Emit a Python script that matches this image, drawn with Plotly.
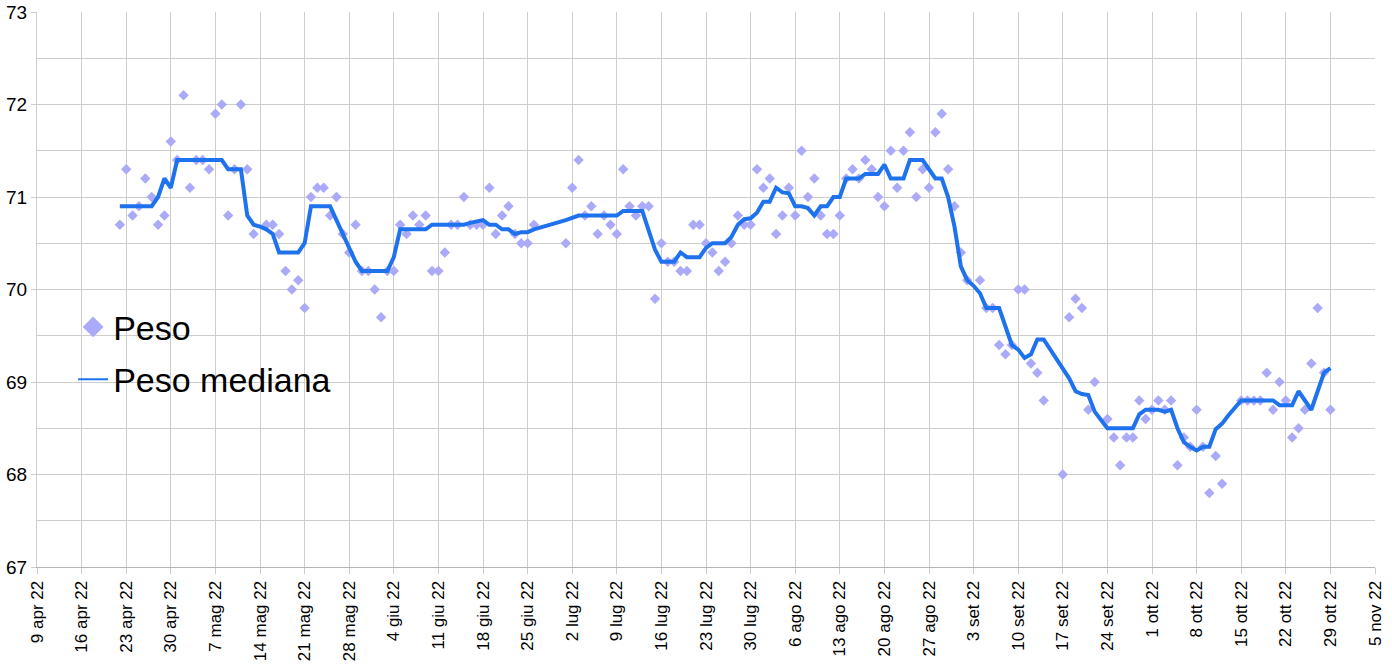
import plotly.graph_objects as go
from datetime import date, timedelta

# ---- data ----
peso_dates = [
    "04-22","04-23","04-24","04-25","04-26","04-27","04-28","04-29","04-30",
    "05-01","05-02","05-03","05-04","05-05","05-06","05-07","05-08","05-09","05-10",
    "05-11","05-12","05-13","05-15","05-16","05-17","05-18","05-19","05-20","05-21",
    "05-22","05-23","05-24","05-25","05-26","05-27","05-28","05-29","05-30","05-31",
    "06-01","06-02","06-03","06-04","06-05","06-06","06-07","06-08","06-09","06-10",
    "06-11","06-12","06-13","06-14","06-15","06-16","06-17","06-18","06-19","06-20",
    "06-21","06-22","06-23","06-24","06-25","06-26",
    "07-01","07-02","07-03","07-04","07-05","07-06","07-07","07-08","07-09","07-10",
    "07-11","07-12","07-13","07-14","07-15","07-16","07-17","07-18","07-19","07-20",
    "07-21","07-22","07-23","07-24","07-25","07-26","07-27","07-28","07-29","07-30","07-31",
    "08-01","08-02","08-03","08-04","08-05","08-06","08-07","08-08","08-09","08-10",
    "08-11","08-12","08-13","08-14","08-15","08-16","08-17","08-18","08-19","08-20",
    "08-21","08-22","08-23","08-24","08-25","08-26","08-27","08-28","08-29","08-30","08-31",
    "09-01","09-02","09-04","09-05","09-06","09-07","09-08","09-09","09-10",
    "09-11","09-12","09-13","09-14","09-17","09-18","09-19","09-20",
    "09-21","09-22","09-24","09-25","09-26","09-27","09-28","09-29","09-30",
    "10-01","10-02","10-03","10-04","10-05","10-06","10-07","10-08","10-09","10-10",
    "10-11","10-12","10-15","10-16","10-17","10-18","10-19","10-20",
    "10-21","10-22","10-23","10-24","10-25","10-26","10-27","10-28","10-29",
]
peso_values = [
    70.7,71.3,70.8,70.9,71.2,71.0,70.7,70.8,71.6,
    71.4,72.1,71.1,71.4,71.4,71.3,71.9,72.0,70.8,71.3,
    72.0,71.3,70.6,70.7,70.7,70.6,70.2,70.0,70.1,69.8,
    71.0,71.1,71.1,70.8,71.0,70.6,70.4,70.7,70.2,70.2,
    70.0,69.7,70.2,70.2,70.7,70.6,70.8,70.7,70.8,70.2,
    70.2,70.4,70.7,70.7,71.0,70.7,70.7,70.7,71.1,70.6,
    70.8,70.9,70.6,70.5,70.5,70.7,
    70.5,71.1,71.4,70.8,70.9,70.6,70.8,70.7,70.6,71.3,
    70.9,70.8,70.9,70.9,69.9,70.5,70.3,70.3,70.2,70.2,
    70.7,70.7,70.5,70.4,70.2,70.3,70.5,70.8,70.7,70.7,71.3,
    71.1,71.2,70.6,70.8,71.1,70.8,71.5,71.0,71.2,70.8,
    70.6,70.6,70.8,71.2,71.3,71.2,71.4,71.3,71.0,70.9,
    71.5,71.1,71.5,71.7,71.0,71.3,71.1,71.7,71.9,71.3,70.9,
    70.4,70.1,70.1,69.8,69.8,69.4,69.3,69.4,70.0,
    70.0,69.2,69.1,68.8,68.0,69.7,69.9,69.8,
    68.7,69.0,68.6,68.4,68.1,68.4,68.4,68.8,68.6,
    68.7,68.8,68.7,68.8,68.1,68.4,68.3,68.7,68.3,67.8,
    68.2,67.9,68.8,68.8,68.8,68.8,69.1,68.7,
    69.0,68.8,68.4,68.5,68.7,69.2,69.8,69.1,68.7,
]

mediana_dates = [
    "04-22","04-23","04-24","04-25","04-26","04-27","04-28","04-29","04-30",
    "05-01","05-02","05-03","05-04","05-05","05-06","05-07","05-08","05-09","05-10",
    "05-11","05-12","05-13","05-14","05-15","05-16","05-17","05-18","05-19","05-20","05-21",
    "05-22","05-23","05-24","05-25","05-26","05-27","05-28","05-29","05-30","05-31",
    "06-01","06-02","06-03","06-04","06-05","06-06","06-07","06-08","06-09","06-10",
    "06-11","06-12","06-13","06-14","06-15","06-16","06-17","06-18","06-19","06-20",
    "06-21","06-22","06-23","06-24","06-25","06-26",
    "07-01","07-02","07-03","07-04","07-05","07-06","07-07","07-08","07-09","07-10",
    "07-11","07-12","07-13","07-14","07-15","07-16","07-17","07-18","07-19","07-20",
    "07-21","07-22","07-23","07-24","07-25","07-26","07-27","07-28","07-29","07-30","07-31",
    "08-01","08-02","08-03","08-04","08-05","08-06","08-07","08-08","08-09","08-10",
    "08-11","08-12","08-13","08-14","08-15","08-16","08-17","08-18","08-19","08-20",
    "08-21","08-22","08-23","08-24","08-25","08-26","08-27","08-28","08-29","08-30","08-31",
    "09-01","09-02","09-03","09-04","09-05","09-06","09-07","09-08","09-09","09-10",
    "09-11","09-12","09-13","09-14","09-15","09-16","09-17","09-18","09-19","09-20",
    "09-21","09-22","09-23","09-24","09-25","09-26","09-27","09-28","09-29","09-30",
    "10-01","10-02","10-03","10-04","10-05","10-06","10-07","10-08","10-09","10-10",
    "10-11","10-12","10-13","10-14","10-15","10-16","10-17","10-18","10-19","10-20",
    "10-21","10-22","10-23","10-24","10-25","10-26","10-27","10-28","10-29",
]
mediana_values = [
    70.9,70.9,70.9,70.9,70.9,70.9,71.0,71.2,71.1,
    71.4,71.4,71.4,71.4,71.4,71.4,71.4,71.4,71.3,71.3,
    71.3,70.8,70.7,70.68,70.65,70.6,70.4,70.4,70.4,70.4,70.5,
    70.9,70.9,70.9,70.9,70.75,70.6,70.45,70.3,70.2,70.2,
    70.2,70.2,70.2,70.35,70.65,70.65,70.65,70.65,70.65,70.7,
    70.7,70.7,70.7,70.7,70.7,70.72,70.73,70.75,70.7,70.7,
    70.65,70.65,70.6,70.62,70.62,70.65,
    70.75,70.77,70.8,70.8,70.8,70.8,70.8,70.8,70.8,70.85,
    70.85,70.85,70.85,70.64,70.43,70.3,70.3,70.3,70.4,70.35,
    70.35,70.35,70.45,70.5,70.5,70.5,70.57,70.7,70.76,70.77,70.83,
    70.95,70.95,71.1,71.05,71.04,70.9,70.9,70.88,70.8,70.9,
    70.9,71.0,71.0,71.2,71.2,71.2,71.25,71.25,71.25,71.35,
    71.2,71.2,71.2,71.4,71.4,71.4,71.3,71.2,71.2,71.0,70.68,
    70.25,70.1,70.04,69.96,69.8,69.8,69.8,69.6,69.4,69.35,
    69.26,69.3,69.46,69.46,69.35,69.24,69.13,69.04,68.9,68.87,
    68.86,68.68,68.59,68.5,68.5,68.5,68.5,68.5,68.65,68.7,
    68.7,68.7,68.68,68.7,68.5,68.35,68.3,68.26,68.3,68.3,
    68.49,68.55,68.64,68.72,68.8,68.8,68.8,68.8,68.8,68.8,
    68.75,68.75,68.75,68.9,68.8,68.7,68.9,69.1,69.15,
]

mesi = ["gen", "feb", "mar", "apr", "mag", "giu", "lug", "ago", "set", "ott", "nov", "dic"]
tick_start = "2022-04-09"
tick_end = "2022-11-05"

# ---- build ----
px = ["2022-" + d for d in peso_dates]
mx = ["2022-" + d for d in mediana_dates]

t0 = date.fromisoformat(tick_start)
t1 = date.fromisoformat(tick_end)
tickvals, ticktext = [], []
d = t0
while d <= t1:
    tickvals.append(d.isoformat())
    ticktext.append(f"{d.day} {mesi[d.month - 1]} {d.year % 100}")
    d += timedelta(days=7)

point_color = "#aaaaf8"
line_color = "#1f72ee"
grid_color = "#cdcdcd"
font_family = "Liberation Sans, Arial, sans-serif"

fig = go.Figure()
fig.add_trace(go.Scatter(
    x=px, y=peso_values, mode="markers", name="Peso", showlegend=False,
    marker=dict(symbol="diamond", size=8, color=point_color, line=dict(width=0)),
))
fig.add_trace(go.Scatter(
    x=mx, y=mediana_values, mode="lines", name="Peso mediana", showlegend=False,
    line=dict(color=line_color, width=4),
))
# legend entries
fig.add_trace(go.Scatter(
    x=[None], y=[None], mode="markers", name="Peso", legendgroup="a",
    marker=dict(symbol="diamond", size=16, color=point_color, line=dict(width=0)),
))
fig.add_trace(go.Scatter(
    x=[None], y=[None], mode="lines", name="Peso mediana", legendgroup="b",
    line=dict(color=line_color, width=2),
))

fig.update_layout(
    width=1392, height=667,
    margin=dict(l=37, r=17, t=12, b=100),
    paper_bgcolor="white", plot_bgcolor="white",
    font=dict(family=font_family, color="black"),
    showlegend=True,
    legend=dict(
        x=0.027, y=0.385, xanchor="left", yanchor="middle",
        font=dict(size=34, color="black"),
        bgcolor="rgba(0,0,0,0)", tracegroupgap=5,
    ),
)
fig.update_xaxes(
    type="date", range=[tick_start, tick_end], automargin=False,
    tickmode="array", tickvals=tickvals, ticktext=ticktext, tickangle=-90,
    tickfont=dict(size=17, color="black"),
    showgrid=True, gridcolor=grid_color, gridwidth=1,
    ticks="outside", ticklen=6, tickcolor=grid_color,
    showline=True, linecolor="#b5b5b5", linewidth=1,
    zeroline=False,
)
fig.update_yaxes(
    range=[67, 73], dtick=1, tick0=67, automargin=False,
    tickfont=dict(size=19, color="black"),
    showgrid=True, gridcolor=grid_color, gridwidth=1,
    minor=dict(dtick=0.5, showgrid=True, gridcolor=grid_color, gridwidth=1),
    ticks="outside", ticklen=5, tickcolor=grid_color,
    showline=True, linecolor=grid_color, linewidth=1,
    zeroline=False,
)

fig.write_html(
    "out.html",
    config={"displayModeBar": False},
    post_script="document.body.style.margin='0px';document.body.style.overflow='hidden';",
)
